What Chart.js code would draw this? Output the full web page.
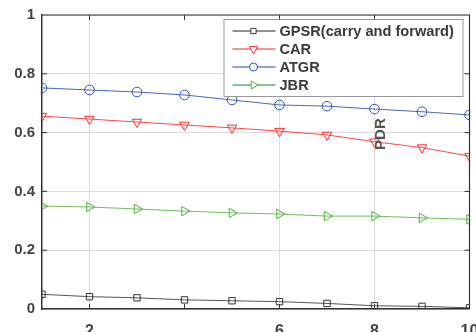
<!DOCTYPE html>
<html>
<head>
<meta charset="utf-8">
<script src="https://cdn.jsdelivr.net/npm/chart.js@4.4.0/dist/chart.umd.min.js"></script>
<style>
html, body { margin: 0; padding: 0; background: #fff; overflow: hidden; }
#wrap { width: 476px; height: 332px; overflow: hidden; }
</style>
</head>
<body>
<div id="wrap"><canvas id="pdrChart" width="476" height="344"></canvas></div>
<script>
// data
const xValues = [1, 2, 3, 4, 5, 6, 7, 8, 9, 10];
const gpsrValues = [0.050, 0.042, 0.038, 0.031, 0.028, 0.025, 0.019, 0.011, 0.009, 0.004];
const carValues = [0.656, 0.646, 0.636, 0.626, 0.616, 0.605, 0.592, 0.569, 0.549, 0.520];
const atgrValues = [0.752, 0.745, 0.738, 0.728, 0.711, 0.694, 0.690, 0.680, 0.671, 0.660];
const jbrValues = [0.350, 0.347, 0.340, 0.333, 0.327, 0.323, 0.316, 0.316, 0.310, 0.305];
const xTicks = [2, 6, 8, 10];
const yTicks = [0, 0.2, 0.4, 0.6, 0.8, 1];
const seriesNames = ['GPSR(carry and forward)', 'CAR', 'ATGR', 'JBR'];

const toPoints = vals => vals.map((v, i) => ({ x: xValues[i], y: v }));

const legendColors = ['#222222', '#ff2020', '#2244aa', '#118833'];

// inner tick marks + top/right frame
const framePlugin = {
    id: 'frame',
    afterDraw(chart) {
        const { ctx, chartArea: a, scales } = chart;
        ctx.save();
        ctx.strokeStyle = '#333';
        ctx.lineWidth = 1.2;
        ctx.beginPath();
        ctx.moveTo(a.left, a.top); ctx.lineTo(a.right, a.top); ctx.lineTo(a.right, a.bottom);
        ctx.stroke();
        ctx.lineWidth = 1;
        ctx.beginPath();
        [0.2, 0.4, 0.6, 0.8].forEach(v => {
            const y = scales.y.getPixelForValue(v);
            ctx.moveTo(a.left, y); ctx.lineTo(a.left + 5, y);
            ctx.moveTo(a.right, y); ctx.lineTo(a.right - 5, y);
        });
        [2, 4, 6, 8].forEach(v => {
            const x = scales.x.getPixelForValue(v);
            ctx.moveTo(x, a.top); ctx.lineTo(x, a.top + 5);
            ctx.moveTo(x, a.bottom); ctx.lineTo(x, a.bottom - 5);
        });
        ctx.stroke();

        // misplaced axis title as in the figure
        const px = scales.x.getPixelForValue(8.13);
        const py = scales.y.getPixelForValue(0.595);
        ctx.translate(px, py);
        ctx.rotate(-Math.PI / 2);
        ctx.fillStyle = '#555';
        ctx.font = 'bold 15px "Liberation Sans", Arial, sans-serif';
        ctx.textAlign = 'center';
        ctx.textBaseline = 'middle';
        ctx.fillText('PDR', 0, 0);
        ctx.restore();
    }
};

// boxed legend inside the plot
const legendPlugin = {
    id: 'boxLegend',
    afterDraw(chart) {
        const { ctx, chartArea: a } = chart;
        const w = 239, h = 77;
        const left = a.right - 7 - w, top = a.top + 4;
        ctx.save();
        ctx.fillStyle = '#fff';
        ctx.fillRect(left, top, w, h);
        ctx.strokeStyle = '#999';
        ctx.lineWidth = 1;
        ctx.strokeRect(left + 0.5, top + 0.5, w, h);
        chart.data.datasets.forEach((ds, i) => {
            const y = top + 12 + i * 18;
            ctx.strokeStyle = legendColors[i];
            ctx.lineWidth = 1;
            ctx.beginPath();
            ctx.moveTo(left + 9, y); ctx.lineTo(left + 52, y);
            ctx.stroke();
            ctx.fillStyle = '#fff';
            ctx.strokeStyle = ds.pointBorderColor;
            Chart.helpers.drawPoint(ctx, {
                pointStyle: ds.pointStyle,
                radius: ds.pointRadius - 0.8,
                rotation: ds.pointRotation || 0,
                borderWidth: 1
            }, left + 30, y);
            ctx.fillStyle = '#3a3a3a';
            ctx.font = 'bold 14.6px "Liberation Sans", Arial, sans-serif';
            ctx.textBaseline = 'middle';
            ctx.fillText(seriesNames[i], left + 56, y + 1);
        });
        ctx.restore();
    }
};

const ctx = document.getElementById('pdrChart').getContext('2d');
new Chart(ctx, {
    type: 'line',
    data: {
        datasets: [
            {
                label: seriesNames[0], data: toPoints(gpsrValues),
                borderColor: '#555', borderWidth: 1,
                pointStyle: 'rect', pointRadius: 4.5, pointRotation: 0,
                pointBorderColor: '#333', pointBackgroundColor: 'rgba(255,255,255,0)', pointBorderWidth: 1
            },
            {
                label: seriesNames[1], data: toPoints(carValues),
                borderColor: '#ff4848', borderWidth: 1,
                pointStyle: 'triangle', pointRadius: 5.5, pointRotation: 180,
                pointBorderColor: '#ff2a2a', pointBackgroundColor: 'rgba(255,255,255,0)', pointBorderWidth: 1
            },
            {
                label: seriesNames[2], data: toPoints(atgrValues),
                borderColor: '#4a68c0', borderWidth: 1,
                pointStyle: 'circle', pointRadius: 4.8, pointRotation: 0,
                pointBorderColor: '#3355bb', pointBackgroundColor: 'rgba(255,255,255,0)', pointBorderWidth: 1
            },
            {
                label: seriesNames[3], data: toPoints(jbrValues),
                borderColor: '#6cc055', borderWidth: 1,
                pointStyle: 'triangle', pointRadius: 5.5, pointRotation: 90,
                pointBorderColor: '#55b040', pointBackgroundColor: 'rgba(255,255,255,0)', pointBorderWidth: 1
            }
        ]
    },
    options: {
        responsive: false,
        animation: false,
        layout: { padding: { top: 15, right: 5, left: 0, bottom: 0 } },
        plugins: { legend: { display: false }, tooltip: { enabled: false } },
        scales: {
            x: {
                type: 'linear', min: 1, max: 10,
                afterFit: s => { s.height = 35; s.paddingLeft = 0; s.paddingRight = 0; },
                afterBuildTicks: s => { s.ticks = xTicks.map(v => ({ value: v })); },
                grid: { color: '#dddddd', drawTicks: false },
                border: { color: '#333', width: 1.5 },
                ticks: {
                    padding: 13, color: '#444',
                    font: { family: '"Liberation Sans", Arial, sans-serif', size: 16, weight: 'bold' }
                }
            },
            y: {
                min: 0, max: 1,
                afterFit: s => { s.width = 42; s.paddingTop = 0; s.paddingBottom = 0; },
                afterBuildTicks: s => { s.ticks = yTicks.map(v => ({ value: v })); },
                grid: { color: '#dddddd', drawTicks: false },
                border: { color: '#333', width: 1.5 },
                ticks: {
                    padding: 7, color: '#444',
                    font: { family: '"Liberation Sans", Arial, sans-serif', size: 15, weight: 'bold' },
                    callback: v => String(Math.round(v * 10) / 10)
                }
            }
        }
    },
    plugins: [framePlugin, legendPlugin]
});
</script>
</body>
</html>
